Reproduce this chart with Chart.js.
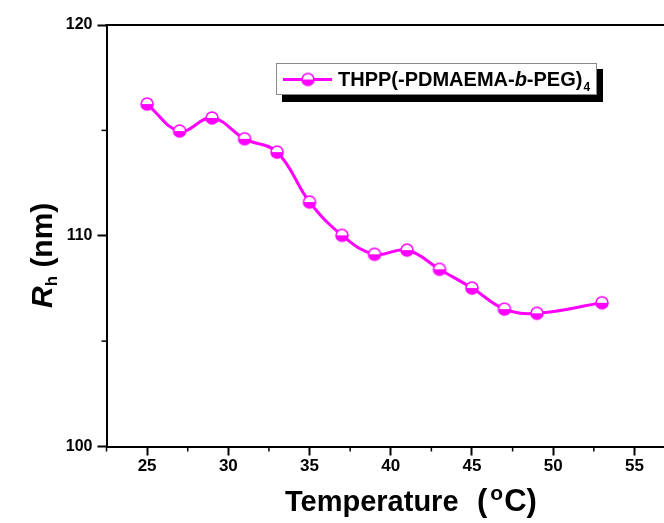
<!DOCTYPE html>
<html>
<head>
<meta charset="utf-8">
<script src="https://cdn.jsdelivr.net/npm/chart.js@4.4.1/dist/chart.umd.min.js"></script>
<style>
    html, body { margin: 0; padding: 0; background: #fff; overflow: hidden; }
    #box { width: 664px; height: 523px; }
</style>
</head>
<body>
<div id="box"><canvas id="myChart" width="664" height="523"></canvas></div>
<script>
// temperature (C) and hydrodynamic radius (nm)
const temps = [25, 27, 29, 31, 33, 35, 37, 39, 41, 43, 45, 47, 49, 53];
const rh = [116.25, 114.97, 115.59, 114.60, 113.97, 111.60, 110.02, 109.12, 109.32, 108.41, 107.52, 106.52, 106.32, 106.82];
const xTicks = [25, 30, 35, 40, 45, 50, 55];
const xMinor = [22.5, 27.5, 32.5, 37.5, 42.5, 47.5, 52.5];
const yTicks = [100, 110, 120];
const yMinor = [105, 115];
// legend text pieces: [text, italic, subscript]
const seriesLabel = [["THPP(-PDMAEMA-", false, false], ["b", true, false], ["-PEG)", false, false], ["4", false, true]];

const FONT = '"Liberation Sans", Arial, sans-serif';
const MAG = '#ff00ff';

// half filled marker
function makeMarker() {
    let c = document.createElement('canvas');
    c.width = 16; c.height = 16;
    let g = c.getContext('2d');
    g.beginPath();
    g.arc(8, 8, 6, 0, Math.PI * 2);
    g.fillStyle = '#fff';
    g.fill();
    g.beginPath();
    g.arc(8, 8, 6, 0, Math.PI);
    g.closePath();
    g.fillStyle = MAG;
    g.fill();
    g.beginPath();
    g.arc(8, 8, 6, 0, Math.PI * 2);
    g.lineWidth = 1.6;
    g.strokeStyle = MAG;
    g.stroke();
    return c;
}
const marker = makeMarker();

const extras = {
    id: 'extras',
    afterDraw(chart) {
        const ctx = chart.ctx;
        const a = chart.chartArea;
        const xs = chart.scales.x, ys = chart.scales.y;
        ctx.save();
        ctx.strokeStyle = '#000';
        ctx.lineWidth = 2;
        // top frame line
        ctx.beginPath();
        ctx.moveTo(a.left - 1, a.top);
        ctx.lineTo(a.right + 2, a.top);
        ctx.stroke();
        // minor ticks
        ctx.lineWidth = 1.5;
        xMinor.forEach(v => {
            let px = xs.getPixelForValue(v);
            ctx.beginPath();
            ctx.moveTo(px, a.bottom);
            ctx.lineTo(px, a.bottom + 5);
            ctx.stroke();
        });
        yMinor.forEach(v => {
            let py = ys.getPixelForValue(v);
            ctx.beginPath();
            ctx.moveTo(a.left, py);
            ctx.lineTo(a.left - 5, py);
            ctx.stroke();
        });

        // legend box
        ctx.fillStyle = '#000';
        ctx.fillRect(282, 69, 321, 33);
        ctx.fillStyle = '#fff';
        ctx.fillRect(276, 63, 321, 32);
        ctx.strokeStyle = '#8a8a8a';
        ctx.lineWidth = 1;
        ctx.strokeRect(276.5, 63.5, 320, 31);
        ctx.strokeStyle = MAG;
        ctx.lineWidth = 3;
        ctx.beginPath();
        ctx.moveTo(283, 79.5);
        ctx.lineTo(332, 79.5);
        ctx.stroke();
        ctx.drawImage(marker, 300, 71.5);
        ctx.fillStyle = '#000';
        ctx.textBaseline = 'alphabetic';
        let tx = 338;
        seriesLabel.forEach(p => {
            if (p[2]) {
                ctx.font = 'bold 12px ' + FONT;
                ctx.fillText(p[0], tx + 1, 90.5);
            } else {
                ctx.font = (p[1] ? 'italic ' : '') + 'bold 20px ' + FONT;
                ctx.fillText(p[0], tx, 86);
            }
            tx += ctx.measureText(p[0]).width;
        });

        // x title
        ctx.font = 'bold 29px ' + FONT;
        ctx.fillText('Temperature', 285, 511);
        ctx.font = 'bold 31px ' + FONT;
        ctx.fillText('(', 477, 511);
        let x0 = 477 + ctx.measureText('(').width + 3;
        ctx.font = 'bold 21px ' + FONT;
        ctx.fillText('o', x0, 500);
        x0 += ctx.measureText('o').width + 1;
        ctx.font = 'bold 31px ' + FONT;
        ctx.fillText('C)', x0, 511);

        // y title
        ctx.translate(52, 308);
        ctx.rotate(-Math.PI / 2);
        ctx.font = 'italic bold 30px ' + FONT;
        let y0 = 0;
        ctx.fillText('R', y0, 0);
        y0 += ctx.measureText('R').width;
        ctx.font = 'bold 17px ' + FONT;
        ctx.fillText('h', y0, 5);
        y0 += ctx.measureText('h').width;
        ctx.font = 'bold 30px ' + FONT;
        ctx.fillText(' (nm)', y0, 0);
        ctx.restore();
    }
};

const ctx = document.getElementById('myChart').getContext('2d');
const myChart = new Chart(ctx, {
    type: 'line',
    data: {
        datasets: [{
            label: 'THPP(-PDMAEMA-b-PEG)4',
            data: temps.map((t, i) => ({x: t, y: rh[i]})),
            borderColor: MAG,
            borderWidth: 3,
            tension: 0.4,
            pointStyle: marker,
            pointRadius: 7,
            fill: false
        }]
    },
    options: {
        responsive: false,
        animation: false,
        devicePixelRatio: 1,
        layout: {autoPadding: false, padding: {top: 25, left: 0, right: 0, bottom: 0}},
        plugins: {
            legend: {display: false},
            tooltip: {enabled: false}
        },
        scales: {
            x: {
                type: 'linear',
                min: 22.5,
                max: 56.82,
                afterBuildTicks: s => { s.ticks = xTicks.map(v => ({value: v})); },
                afterFit: s => { s.height = 76.5; },
                grid: {drawOnChartArea: false, drawTicks: true, tickLength: 9, tickColor: '#000', tickWidth: 2},
                border: {color: '#000', width: 2},
                ticks: {color: '#000', padding: 1, maxRotation: 0, font: {family: FONT, size: 17, weight: 'bold'}}
            },
            y: {
                min: 100,
                max: 120,
                afterBuildTicks: s => { s.ticks = yTicks.map(v => ({value: v})); },
                afterFit: s => { s.width = 106.5; },
                grid: {drawOnChartArea: false, drawTicks: true, tickLength: 9, tickColor: '#000', tickWidth: 2},
                border: {color: '#000', width: 2},
                ticks: {color: '#000', padding: 5, font: {family: FONT, size: 16, weight: 'bold'}}
            }
        }
    },
    plugins: [extras]
});
</script>
</body>
</html>
